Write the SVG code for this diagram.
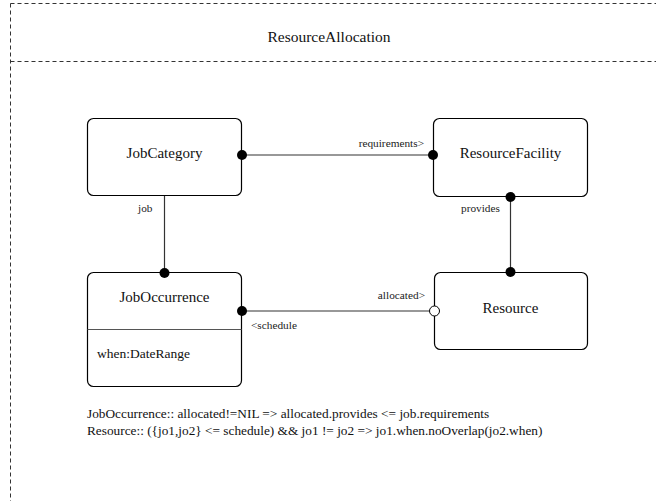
<svg xmlns="http://www.w3.org/2000/svg" width="656" height="501" viewBox="0 0 656 501" font-family="'Liberation Serif', 'Times New Roman', Times, serif">
  <style>
    .frame { fill: none; stroke: #333; stroke-width: 1; stroke-dasharray: 4 3; }
    .node { fill: #fff; stroke: #000; stroke-width: 1.2; }
    .sep { stroke: #555; stroke-width: 1.2; }
    .conn { stroke: #333; stroke-width: 1.2; fill: none; }
    .dot { fill: #000; }
    .open { fill: #fff; stroke: #000; stroke-width: 1; }
    text { font-family: 'Liberation Serif', 'Times New Roman', Times, serif; fill: #111; }
    .title { font-size: 15.5px; text-anchor: middle; }
    .name { font-size: 15px; text-anchor: middle; }
    .attr { font-size: 13.5px; }
    .lbl { font-size: 11.3px; fill: #222; }
    .note { font-size: 13.3px; }
  </style>
  <rect width="656" height="501" fill="#fff"/>

  <!-- package frame with name compartment -->
  <g id="frame">
    <path class="frame" d="M10.5 3.5 H660 M10.5 3.5 V510 M10.5 61.5 H660"/>
    <text class="title" x="329" y="42">ResourceAllocation</text>
  </g>

  <g id="connectors">
    <line class="conn" x1="242" y1="155" x2="433" y2="155"/>
    <line class="conn" x1="164.5" y1="195" x2="164.5" y2="273"/>
    <line class="conn" x1="510.5" y1="197" x2="510.5" y2="272"/>
    <line class="conn" x1="242" y1="311" x2="429" y2="311"/>
    <text class="lbl" x="424" y="147" text-anchor="end">requirements&gt;</text>
    <text class="lbl" x="138" y="212">job</text>
    <text class="lbl" x="461" y="212">provides</text>
    <text class="lbl" x="425" y="299" text-anchor="end">allocated&gt;</text>
    <text class="lbl" x="251" y="329">&lt;schedule</text>
  </g>

  <g id="JobCategory">
    <rect class="node" x="87.5" y="118.5" width="154" height="77" rx="6"/>
    <text class="name" x="164.5" y="158">JobCategory</text>
  </g>

  <g id="ResourceFacility">
    <rect class="node" x="433.5" y="118.5" width="154" height="78" rx="6"/>
    <text class="name" x="510.5" y="158">ResourceFacility</text>
  </g>

  <g id="JobOccurrence">
    <rect class="node" x="87.5" y="272.5" width="154" height="114" rx="6"/>
    <line class="sep" x1="87.5" y1="329.5" x2="241.5" y2="329.5"/>
    <text class="name" x="164.5" y="302">JobOccurrence</text>
    <text class="attr" x="97" y="358">when:DateRange</text>
  </g>

  <g id="Resource">
    <rect class="node" x="434.5" y="272.5" width="153" height="77" rx="6"/>
    <text class="name" x="510.5" y="313">Resource</text>
  </g>

  <!-- association end markers -->
  <g id="ends">
    <circle class="dot" cx="242" cy="155" r="5"/>
    <circle class="dot" cx="433" cy="155" r="5"/>
    <circle class="dot" cx="164.5" cy="273" r="5"/>
    <circle class="dot" cx="510.5" cy="197" r="5"/>
    <circle class="dot" cx="510.5" cy="272" r="5"/>
    <circle class="dot" cx="242" cy="311" r="5"/>
    <circle class="open" cx="434.5" cy="311" r="5"/>
  </g>

  <g id="constraints">
    <text class="note" x="87" y="418">JobOccurrence:: allocated!=NIL =&gt; allocated.provides &lt;= job.requirements</text>
    <text class="note" x="87" y="435">Resource:: ({jo1,jo2} &lt;= schedule) &amp;&amp; jo1 != jo2 =&gt; jo1.when.noOverlap(jo2.when)</text>
  </g>
</svg>
